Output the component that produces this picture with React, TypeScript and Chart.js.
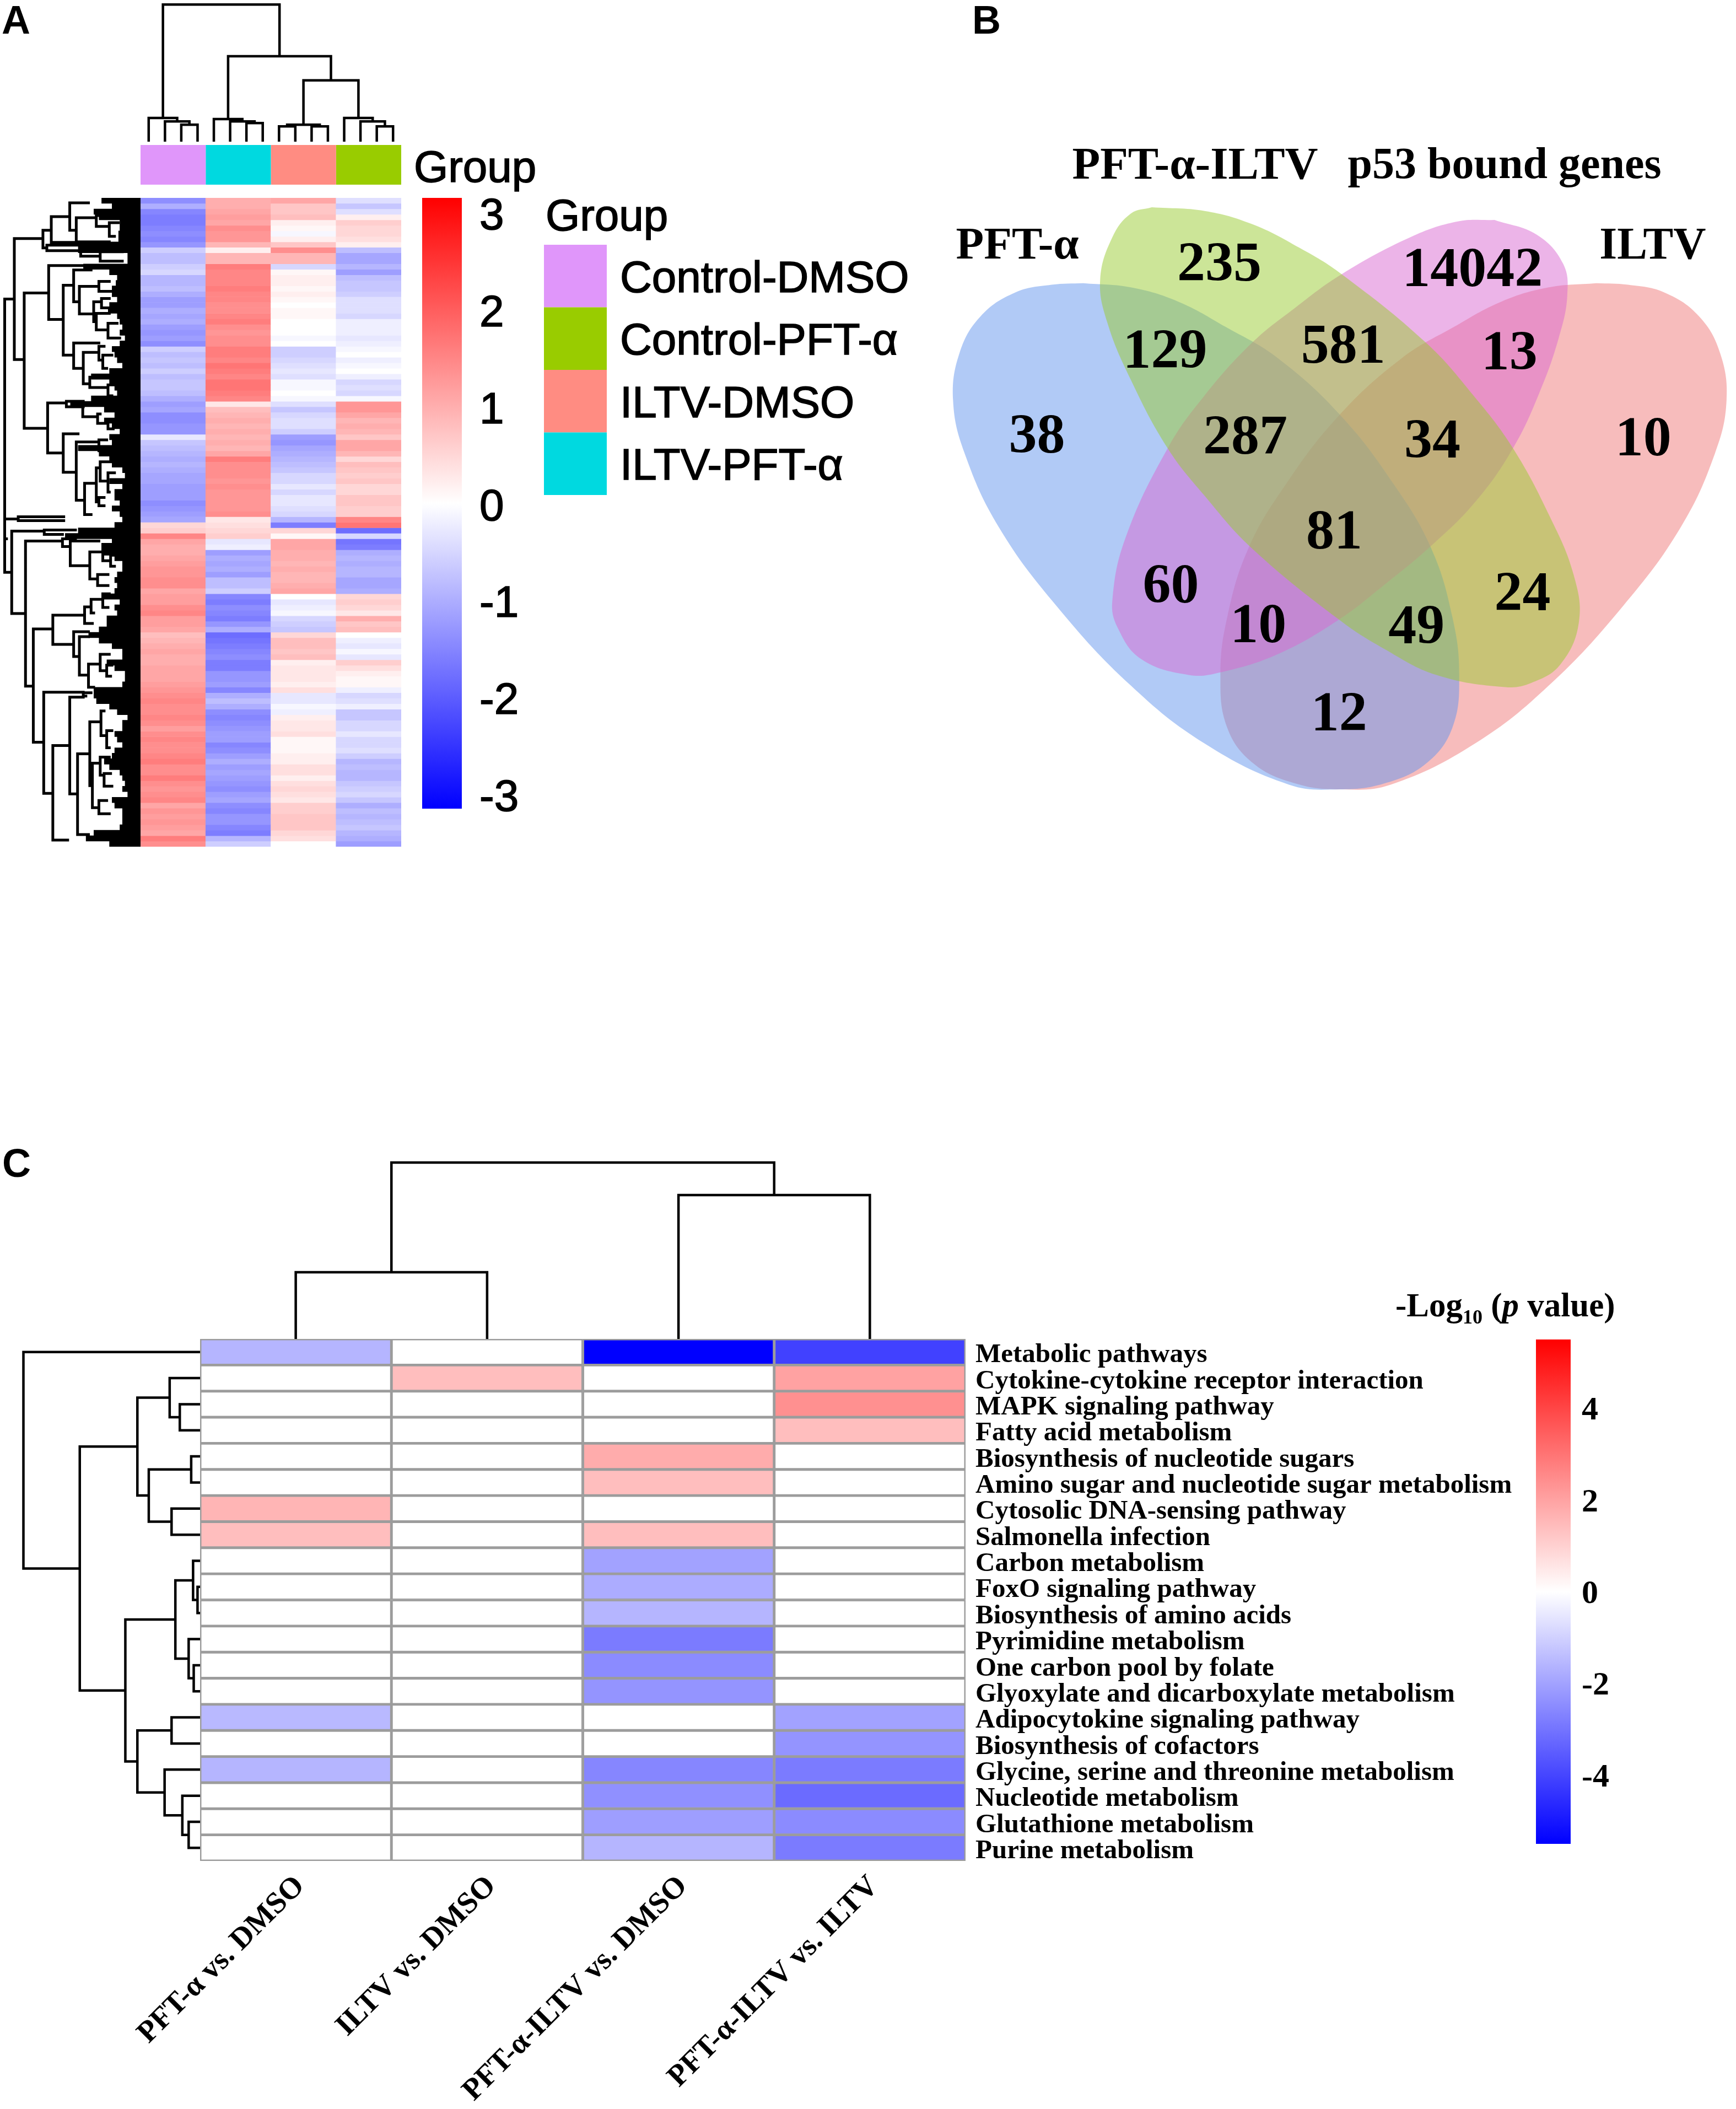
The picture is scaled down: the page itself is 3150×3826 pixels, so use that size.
import React, { useEffect, useRef } from 'react';
import { Chart, registerables } from 'chart.js';
Chart.register(...registerables);

const SANS = '"Liberation Sans", Arial, sans-serif';
const SERIF = '"Liberation Serif", "Times New Roman", serif';

// ---------- Panel A data ----------
const groupColumns = ['Control-DMSO', 'ILTV-PFT-α', 'ILTV-DMSO', 'Control-PFT-α'];
const groupColors = ['#E096FA', '#00D9E0', '#FF8C82', '#99CC00'];
const legendNames = ['Control-DMSO', 'Control-PFT-α', 'ILTV-DMSO', 'ILTV-PFT-α'];
const legendColors = ['#E096FA', '#99CC00', '#FF8C82', '#00D9E0'];
const colorTicksA = [-3, -2, -1, 0, 1, 2, 3];

// z-scores of each heat-map row, in the order of groupColumns
const heatRowsA = [
  [-1.4, 1.0, 1.1, -0.4], [-1.0, 1.0, 0.7, -0.7], [-1.5, 1.1, 0.7, -0.4], [-1.6, 1.2, 0.8, 0.2], [-1.6, 1.1, 0.2, 0.6],
  [-1.5, 1.4, 0.1, 0.5], [-1.4, 1.3, -0.1, 0.5], [-1.5, 1.3, 0.2, 0.4], [-1.3, 0.9, 0.7, 0.2], [-0.6, 0.2, 1.4, -0.8],
  [-0.8, 0.9, 0.9, -1.1], [-0.8, 0.9, 0.9, -1.1], [-0.6, 1.6, -0.5, -0.9], [-0.5, 1.5, 0.1, -1.2], [-0.9, 1.5, 0.2, -0.8],
  [-0.9, 1.5, 0.2, -0.7], [-0.8, 1.6, 0.1, -0.7], [-1.0, 1.5, 0.2, -0.6], [-1.2, 1.5, 0.1, -0.4], [-1.2, 1.4, 0.0, -0.4],
  [-1.0, 1.4, 0.1, -0.4], [-1.1, 1.5, 0.1, -0.5], [-1.0, 1.6, 0.0, -0.2], [-1.2, 1.4, 0.0, -0.2], [-1.3, 1.3, 0.0, -0.2],
  [-1.2, 1.4, -0.1, -0.3], [-1.4, 1.4, 0.0, -0.2], [-0.6, 1.6, -0.6, -0.1], [-0.8, 1.6, -0.6, 0.0], [-0.7, 1.5, -0.5, -0.2],
  [-0.8, 1.7, -0.4, -0.1], [-0.6, 1.6, -0.3, 0.0], [-0.8, 1.5, -0.4, -0.2], [-0.7, 1.7, -0.1, -0.5], [-0.7, 1.7, -0.1, -0.4],
  [-0.8, 1.6, 0.0, -0.5], [-1.0, 1.5, -0.1, -0.1], [-1.2, 0.3, -0.4, 1.3], [-1.1, 0.8, -0.7, 1.3], [-1.4, 0.9, -0.5, 1.1],
  [-1.4, 1.0, -0.4, 0.9], [-1.3, 0.9, -0.4, 1.0], [-1.3, 1.0, -0.6, 0.9], [-0.3, 0.9, -1.2, 0.7], [-0.7, 1.0, -1.3, 1.1],
  [-0.8, 0.9, -1.1, 1.1], [-0.9, 1.1, -1.0, 0.9], [-1.0, 1.6, -0.9, 0.5], [-0.9, 1.4, -0.8, 0.8], [-1.0, 1.4, -0.7, 0.7],
  [-1.1, 1.4, -0.5, 0.6], [-1.1, 1.3, -0.5, 0.7], [-1.2, 1.4, -0.3, 0.5], [-1.2, 1.3, -0.5, 0.5], [-1.2, 1.3, -0.3, 0.7],
  [-1.4, 1.3, -0.3, 0.7], [-1.3, 1.3, -0.4, 0.6], [-1.2, 1.4, -0.5, 0.6], [-1.1, 0.3, -0.9, 1.5], [0.5, 0.4, -1.6, 1.7],
  [0.6, 0.5, 0.5, -1.8], [1.5, 0.6, 0.1, -0.5],
  [1.1, -0.3, 1.1, -1.7], [1.0, -0.2, 1.1, -1.6], [1.0, -1.2, 1.0, -1.0], [1.1, -1.0, 1.0, -0.9], [1.2, -1.1, 0.9, -1.0],
  [1.3, -1.0, 1.0, -0.9], [1.3, -1.2, 0.9, -0.9], [1.4, -0.8, 0.9, -1.1], [1.4, -0.8, 1.0, -1.1], [1.1, -0.6, 1.1, -1.0],
  [1.2, -1.5, 0.0, 0.5], [1.2, -1.6, -0.3, 0.6], [1.4, -1.4, -0.2, 0.5], [1.5, -1.5, -0.1, 0.3], [1.2, -1.6, -0.5, 1.0],
  [1.2, -1.3, -0.6, 0.7], [1.1, -1.0, -0.7, 0.8], [0.8, -1.8, 0.5, 0.0], [0.9, -1.7, 0.8, -0.2], [1.0, -1.6, 0.8, -0.3],
  [1.1, -1.5, 0.7, -0.1], [1.0, -1.4, 0.8, -0.3], [1.0, -1.6, 0.2, 0.6], [1.1, -1.6, 0.3, 0.4], [1.1, -1.3, 0.3, 0.2],
  [1.1, -1.3, 0.3, 0.1], [1.2, -1.2, 0.2, 0.1], [1.3, -1.5, 0.4, -0.2],
  [1.4, -1.0, -0.3, -0.5], [1.5, -0.8, -0.3, -0.4], [1.4, -1.0, -0.1, -0.2], [1.4, -1.4, -0.2, -0.7], [1.5, -1.5, 0.2, -0.7],
  [1.4, -1.4, 0.3, -0.5], [1.2, -1.3, 0.3, -0.5], [1.4, -1.2, 0.4, -0.3], [1.5, -1.2, 0.1, -0.5], [1.4, -1.5, 0.1, -0.5],
  [1.4, -1.4, 0.1, -0.4], [1.5, -1.2, 0.2, -0.6], [1.6, -1.0, 0.2, -0.9], [1.4, -1.2, 0.4, -0.8], [1.4, -1.1, 0.4, -0.9],
  [1.6, -1.2, 0.2, -0.9], [1.4, -1.3, 0.4, -0.7], [1.3, -1.4, 0.5, -0.6], [1.4, -1.2, 0.4, -0.5], [1.5, -1.1, 0.3, -0.7],
  [1.1, -1.4, 0.6, -1.0], [1.3, -1.5, 0.6, -0.8], [1.2, -1.3, 0.7, -0.9], [1.3, -1.3, 0.7, -0.8], [1.2, -1.5, 0.7, -0.7],
  [1.1, -1.6, 0.5, -0.9], [1.6, -0.9, 0.4, -1.0], [1.4, -0.6, 0.0, -1.2],
];

// Dendrogram trees: [merge height, left, right]; a number is a leaf index.
const sampleTreeA: any = [8,
  [210, 0, [216, 1, [222, 2, 3]]],
  [100,
    [212, 4, [216, 5, [219, 6, 7]]],
    [143, [222, [225, 8, 9], [225, 10, 11]], [210, 12, [216, 13, [225, 14, 15]]]]]];

// depth at which each row's leaf bundle begins
const rowLeafDepth = [
  390, 430, 360, 380, 460, 460, 455, 455, 300, 300, 490, 490, 320, 420, 450, 445, 430, 430, 450, 420, 415, 450, 460, 470, 460, 480, 460, 430, 440, 450,
  470, 420, 350, 420, 440, 450, 350, 270, 400, 440, 400, 430, 460, 420, 430, 300, 380, 420, 430, 470, 480, 420, 470, 440, 440, 460, 430, 460, 470, 440, 300, 250,
  430, 400, 390, 440, 470, 470, 450, 440, 450, 440, 400, 460, 440, 450, 410, 410, 380, 340, 380, 430, 470, 470, 410, 440, 480, 480, 470, 360,
  360, 370, 420, 450, 490, 470, 470, 440, 450, 470, 440, 430, 400, 420, 460, 470, 480, 470, 490, 430, 440, 470, 470, 470, 460, 360, 330, 420,
];
// [node depth, upper row, upper child depth, lower row, lower child depth]
const rowBranches = [
  [18, 18.4, 55, 68.1, 45], [55, 7.4, 165, 29.4, 93], [165, 5.9, 197, 9.1, 180], [197, 3.4, 268, 8.1, 420], [268, 0.9, 340, 5.9, 293],
  [293, 3.6, 370, 8.0, 420], [370, 3.2, 400, 5.2, 420], [420, 4.5, 455, 7.0, 440], [180, 8.6, 300, 9.6, 310], [310, 9.2, 385, 10.6, 385],
  [385, 9.8, 470, 11.5, 470], [93, 17.3, 187, 41.9, 183], [187, 12.3, 320, 22.1, 243], [243, 15.9, 283, 28.6, 283], [283, 13.1, 350, 18.9, 305],
  [305, 16.1, 380, 21.1, 360], [380, 15.2, 420, 17, 430], [360, 18.9, 390, 22.5, 370], [390, 18.3, 420, 20, 430], [370, 21, 420, 24, 415],
  [415, 22.8, 450, 25.5, 460], [283, 26.4, 380, 31, 320], [320, 28.1, 380, 33.8, 345], [380, 27, 400, 29.5, 395], [395, 28.6, 430, 31, 410],
  [345, 32.6, 380, 34.5, 415], [415, 34, 440, 36, 430], [183, 37.3, 255, 46.4, 243], [255, 37, 320, 38, 320], [318, 37.6, 400, 39.8, 375],
  [375, 39.3, 385, 41, 415], [415, 40.5, 430, 42, 435], [243, 42.9, 300, 49.9, 293], [293, 44.4, 380, 55, 325], [380, 44, 410, 46, 415],
  [325, 51.9, 370, 57.6, 350], [370, 49.1, 385, 55.3, 380], [385, 48, 430, 51.5, 415], [415, 50, 440, 53.5, 420], [380, 54.5, 400, 56, 400],
  [18, 58.4, 70, 62, 25], [70, 58, 245, 58.7, 245], [45, 60.6, 170, 75.6, 98], [170, 60.4, 290, 61.2, 240], [98, 62.4, 240, 88.8, 128],
  [240, 62, 290, 63.4, 270], [270, 62.4, 380, 66.9, 345], [345, 64.4, 395, 69.3, 375], [395, 63, 430, 66, 425], [425, 65, 440, 67, 440],
  [375, 68.5, 415, 70.5, 415], [128, 78.4, 203, 99, 168], [203, 75.9, 325, 81.2, 283], [325, 74.4, 350, 77.4, 355], [350, 73, 395, 75.5, 360],
  [395, 72, 420, 74.5, 415], [283, 78.9, 340, 83.4, 305], [305, 79.8, 340, 86.8, 340], [340, 84.8, 385, 89, 360], [385, 83, 420, 86, 410],
  [410, 85, 430, 87, 425], [168, 89.9, 320, 108.3, 203], [203, 99.6, 268, 116.8, 260], [268, 90.8, 320, 108.4, 298], [298, 101.1, 345, 115.8, 340],
  [345, 95.3, 388, 106.9, 355], [388, 93.3, 400, 97.8, 410], [410, 96.9, 430, 100, 420], [355, 102.8, 385, 110.9, 380], [385, 101.7, 420, 105, 400],
  [400, 104.7, 425, 107, 430], [380, 109.6, 410, 112, 420], [320, 90, 350, 90.6, 330],
];

// ---------- Panel B data ----------
const vennBlue = [[330, 537], [420, 545], [510, 572], [600, 620], [700, 680], [820, 790], [920, 920], [990, 1040], [1030, 1170], [1043, 1280], [1030, 1380], [980, 1448], [900, 1486], [816, 1497], [720, 1488], [560, 1410], [420, 1300], [280, 1150], [170, 1000], [105, 860], [83, 760], [95, 670], [135, 600], [200, 555], [270, 540], [330, 537]];
const vennRed = [[1303, 537], [1213, 545], [1123, 572], [1033, 620], [933, 680], [813, 790], [713, 920], [643, 1040], [603, 1170], [590, 1280], [603, 1380], [653, 1448], [733, 1486], [816, 1497], [913, 1488], [1073, 1410], [1213, 1300], [1353, 1150], [1463, 1000], [1528, 860], [1550, 760], [1538, 670], [1498, 600], [1433, 555], [1363, 540], [1303, 537]];
const vennGreen = [[460, 393], [560, 400], [650, 425], [740, 470], [820, 520], [980, 650], [1070, 750], [1145, 850], [1215, 980], [1260, 1090], [1270, 1180], [1235, 1260], [1180, 1295], [1130, 1303], [1000, 1280], [900, 1230], [815, 1175], [650, 1040], [560, 940], [490, 850], [420, 720], [375, 610], [362, 530], [385, 450], [420, 405], [460, 393]];
const vennPurple = [[1110, 417], [1190, 445], [1240, 500], [1248, 560], [1232, 640], [1195, 745], [1145, 850], [1075, 950], [990, 1035], [900, 1110], [815, 1175], [700, 1240], [590, 1275], [530, 1280], [440, 1250], [395, 1190], [385, 1140], [410, 1020], [490, 850], [560, 750], [650, 650], [730, 585], [820, 520], [950, 450], [1040, 420], [1110, 417]];
const vennCounts = ['38', '235', '14042', '129', '581', '13', '10', '287', '34', '81', '60', '10', '49', '24', '12'];
const vennCountX = [242, 588, 1068, 485, 823, 1138, 1392, 637, 992, 806, 496, 662, 962, 1163, 815];
const vennCountY = [831, 505, 515, 670, 660, 673, 836, 833, 840, 1013, 1115, 1190, 1192, 1130, 1358];
const vennNames = ['PFT-α-ILTV', 'p53 bound genes', 'PFT-α', 'ILTV'];
const vennNameSizes = [83, 80, 83, 82];
const vennNameX = [542, 1129, 205, 1410];
const vennNameY = [316, 316, 468, 468];

// ---------- Panel C data ----------
const comparisons = ['PFT-α vs. DMSO', 'ILTV vs. DMSO', 'PFT-α-ILTV vs. DMSO', 'PFT-α-ILTV vs. ILTV'];
const pathways = [
  'Metabolic pathways', 'Cytokine-cytokine receptor interaction', 'MAPK signaling pathway', 'Fatty acid metabolism',
  'Biosynthesis of nucleotide sugars', 'Amino sugar and nucleotide sugar metabolism', 'Cytosolic DNA-sensing pathway', 'Salmonella infection',
  'Carbon metabolism', 'FoxO signaling pathway', 'Biosynthesis of amino acids', 'Pyrimidine metabolism',
  'One carbon pool by folate', 'Glyoxylate and dicarboxylate metabolism', 'Adipocytokine signaling pathway', 'Biosynthesis of cofactors',
  'Glycine, serine and threonine metabolism', 'Nucleotide metabolism', 'Glutathione metabolism', 'Purine metabolism',
];
const pfaVsDmso = [-1.6, 0, 0, 0, 0, 0, 1.6, 1.4, 0, 0, 0, 0, 0, 0, -1.5, 0, -1.6, 0, 0, 0];
const iltvVsDmso = [0, 1.4, 0, 0, 0, 0, 0, 0, 0, 0, 0, 0, 0, 0, 0, 0, 0, 0, 0, 0];
const comboVsDmso = [-5.5, 0, 0, 0, 1.8, 1.4, 0, 1.4, -2.0, -1.8, -1.6, -2.85, -2.5, -2.3, 0, 0, -2.6, -2.4, -2.1, -1.6];
const comboVsIltv = [-4.1, 2.0, 2.4, 1.4, 0, 0, 0, 0, 0, 0, 0, 0, 0, 0, -2.0, -2.3, -2.85, -3.2, -2.5, -2.85];
const colorTicksC = [-4, -2, 0, 2, 4];
const comparisonTree: any = [320, [121, 0, 1], [261, 2, 3]];
const pathwayTree: any = [37, 0, [126,
  [217, [268, 1, [284, 2, 3]], [235, [302, 4, 5], [271, 6, 7]]],
  [198,
    [277, [305, 8, [312, 9, 10]], [298, 11, [306, 12, 13]]],
    [217, [271, 14, 15], [260, 16, [288, 17, [298, 18, 19]]]]]]];

// ---------- helpers ----------
const divergent = (v: number, limit: number) => {
  const t = Math.min(1, Math.abs(v) / limit);
  const c = Math.round(255 * (1 - t));
  return v >= 0 ? `rgb(255,${c},${c})` : `rgb(${c},${c},255)`;
};

const treeLine = (tree: any, base: number, flip: (h: number, p: number) => { x: number; y: number }) => {
  const out: { x: number; y: number }[] = [];
  const walk = (n: any): { h: number; p: number } => {
    if (typeof n === 'number') return { h: base, p: n + 0.5 };
    const a = walk(n[1]);
    const b = walk(n[2]);
    out.push(flip(a.h, a.p), flip(n[0], a.p), flip(n[0], b.p), flip(b.h, b.p), { x: NaN, y: NaN });
    return { h: n[0], p: (a.p + b.p) / 2 };
  };
  walk(tree);
  return out;
};

const base = (extra: any = {}) => ({
  responsive: false,
  animation: false,
  devicePixelRatio: 1,
  events: [],
  layout: { padding: 0 },
  ...extra,
  plugins: { legend: { display: false }, tooltip: { enabled: false }, ...(extra.plugins || {}) },
});
const hidden = (extra: any = {}) => ({ display: false, ...extra });

// axis whose tick labels must not eat into the plot area
const fixedAxis = (size: { width?: number; height?: number }) => (s: any) => {
  if (size.width !== undefined) s.width = size.width;
  if (size.height !== undefined) s.height = size.height;
  s.paddingTop = 0;
  s.paddingBottom = 0;
  s.paddingLeft = 0;
  s.paddingRight = 0;
};

const dendroDataset = (data: any[], width: number) => ({
  data, showLine: true, pointRadius: 0, borderColor: '#000', borderWidth: width, tension: 0, spanGaps: false,
  borderJoinStyle: 'miter', borderCapStyle: 'square', clip: false,
});

const pointText = {
  id: 'pointText',
  afterDatasetsDraw(chart: any) {
    const { ctx } = chart;
    chart.data.datasets.forEach((ds: any, i: number) => {
      if (!ds.texts) return;
      const meta = chart.getDatasetMeta(i);
      ctx.save();
      ctx.fillStyle = '#000';
      ctx.textAlign = 'center';
      ctx.textBaseline = 'middle';
      ds.texts.forEach((t: string, j: number) => {
        ctx.font = `bold ${ds.textSizes[j]}px ${SERIF}`;
        ctx.fillText(t, meta.data[j].x, meta.data[j].y);
      });
      ctx.restore();
    });
  },
};

const gradientBar = (ctx: any) => {
  const { chart } = ctx;
  const area = chart.chartArea;
  if (!area) return '#fff';
  const g = chart.ctx.createLinearGradient(0, area.top, 0, area.bottom);
  g.addColorStop(0, '#ff0000');
  g.addColorStop(0.5, '#ffffff');
  g.addColorStop(1, '#0000ff');
  return g;
};

const colorBarConfig = (min: number, max: number, ticks: number[], tickStyle: any) => ({
  type: 'bar',
  data: { labels: ['scale'], datasets: [{ data: [[min, max]], backgroundColor: gradientBar, barPercentage: 1, categoryPercentage: 1, borderWidth: 0, inflateAmount: 0 }] },
  options: base({
    layout: { padding: { top: 60, bottom: 60 } },
    scales: {
      x: hidden(),
      y: {
        position: 'right', min, max,
        grid: { display: false, drawTicks: false }, border: { display: false },
        afterBuildTicks: (s: any) => { s.ticks = ticks.map((value) => ({ value })); },
        ticks: { color: '#000', autoSkip: false, labelOffset: 5, ...tickStyle },
        afterFit: fixedAxis({ width: 160 }),
      },
    },
  }),
});

const sansTick = { color: '#000', font: { family: SANS, size: 80 }, textStrokeColor: '#000', textStrokeWidth: 1.6 };

// ---------- chart configs ----------
const heatA = () => ({
  type: 'bar',
  data: {
    labels: groupColumns,
    datasets: heatRowsA.map((row, r) => ({
      data: row.map(() => [r, r + 1]),
      backgroundColor: row.map((v) => divergent(v, 3.15)),
      barPercentage: 1, categoryPercentage: 1, borderWidth: 0,
    })),
  },
  options: base({ scales: { x: hidden({ stacked: true }), y: hidden({ min: 0, max: heatRowsA.length, reverse: true }) } }),
});

const annotationA = () => ({
  type: 'bar',
  data: {
    labels: ['Group'],
    datasets: groupColumns.map((label, i) => ({ label, data: [1], backgroundColor: groupColors[i], barPercentage: 1, categoryPercentage: 1, borderWidth: 0, inflateAmount: 0 })),
  },
  options: base({
    indexAxis: 'y',
    layout: { padding: { top: 20, bottom: 20 } },
    scales: {
      x: hidden({ stacked: true, min: 0, max: 4 }),
      y: {
        stacked: true, position: 'right', grid: { display: false, drawTicks: false }, border: { display: false },
        ticks: { ...sansTick, padding: 23, labelOffset: 9 },
        afterFit: fixedAxis({ width: 250 }),
      },
    },
  }),
});

const colTreeA = () => ({
  type: 'scatter',
  data: { datasets: [dendroDataset(treeLine(sampleTreeA, 250, (h, p) => ({ x: p, y: h })), 4.5)] },
  options: base({ scales: { x: hidden({ type: 'linear', min: 0, max: 16 }), y: hidden({ min: 0, max: 258, reverse: true }) } }),
});

const rowTreeA = () => {
  const leaves: any[] = [];
  rowLeafDepth.forEach((d, i) => leaves.push({ x: d, y: i + 0.5 }, { x: 540, y: i + 0.5 }, { x: NaN, y: NaN }));
  const branches: any[] = [];
  rowBranches.forEach(([x, ra, xa, rb, xb]) => branches.push({ x: xa, y: ra }, { x, y: ra }, { x, y: rb }, { x: xb, y: rb }, { x: NaN, y: NaN }));
  return {
    type: 'scatter',
    data: { datasets: [dendroDataset(branches, 5), { ...dendroDataset(leaves, 10.6), borderCapStyle: 'butt' }] },
    options: base({ scales: { x: hidden({ type: 'linear', min: 0, max: 540 }), y: hidden({ min: 0, max: heatRowsA.length, reverse: true }) } }),
  };
};

const legendA = () => ({
  type: 'bar',
  data: { labels: legendNames, datasets: [{ data: legendNames.map(() => 1), backgroundColor: legendColors, barPercentage: 1, categoryPercentage: 1, borderWidth: 0, inflateAmount: 0 }] },
  options: base({
    indexAxis: 'y',
    scales: {
      x: hidden({ min: 0, max: 1 }),
      y: {
        position: 'right', grid: { display: false, drawTicks: false }, border: { display: false },
        ticks: { ...sansTick, padding: 24, labelOffset: 7 },
        afterFit: fixedAxis({ width: 600 }),
      },
    },
  }),
});

const venn = () => {
  const shape = (pts: number[][], color: string) => ({
    data: pts.map(([x, y]) => ({ x, y })), showLine: true, pointRadius: 0, borderWidth: 0,
    fill: 'shape', backgroundColor: color, borderColor: 'rgba(0,0,0,0)', tension: 0.4,
  });
  const labels = (texts: string[], xs: number[], ys: number[], textSizes: number[]) => ({
    data: texts.map((_, i) => ({ x: xs[i], y: ys[i] })), pointRadius: 0, texts, textSizes, showLine: false,
  });
  return {
    type: 'scatter',
    data: {
      datasets: [
        labels(vennCounts, vennCountX, vennCountY, vennCounts.map(() => 102)),
        labels(vennNames, vennNameX, vennNameY, vennNameSizes),
        shape(vennGreen, 'rgba(153,204,50,0.5)'),
        shape(vennPurple, 'rgba(217,105,210,0.5)'),
        shape(vennBlue, 'rgba(100,149,237,0.5)'),
        shape(vennRed, 'rgba(240,122,122,0.5)'),
      ],
    },
    options: base({ scales: { x: hidden({ type: 'linear', min: 0, max: 1568 }), y: hidden({ min: 0, max: 1568, reverse: true }) } }),
    plugins: [pointText],
  };
};

const heatC = () => {
  const columns = [pfaVsDmso, iltvVsDmso, comboVsDmso, comboVsIltv];
  return {
    type: 'bar',
    data: {
      labels: comparisons,
      datasets: pathways.map((_, r) => ({
        data: columns.map(() => [r, r + 1]),
        backgroundColor: columns.map((c) => divergent(c[r], 5.5)),
        borderColor: '#9c9c9c', borderWidth: 2.8, borderSkipped: false,
        barPercentage: 1, categoryPercentage: 1,
      })),
    },
    options: base({
      layout: { padding: { top: 60, left: 363 } },
      scales: {
        x: {
          stacked: true, grid: { display: false, drawTicks: false }, border: { display: false },
          ticks: { color: '#000', font: { family: SERIF, size: 55, weight: 'bold' }, maxRotation: 45, minRotation: 45, autoSkip: false, padding: 14, labelOffset: 8 },
          afterFit: fixedAxis({ height: 450 }),
        },
        y: {
          position: 'right', min: 0, max: pathways.length, reverse: true,
          grid: { display: false, drawTicks: false }, border: { display: false },
          afterBuildTicks: (s: any) => { s.ticks = pathways.map((_, i) => ({ value: i + 0.5 })); },
          ticks: { color: '#000', font: { family: SERIF, size: 49, weight: 'bold' }, padding: 18, labelOffset: 6, autoSkip: false, callback: (v: number) => pathways[Math.floor(v)] },
          afterFit: fixedAxis({ width: 1050 }),
        },
      },
    }),
  };
};

const colTreeC = () => ({
  type: 'scatter',
  data: { datasets: [dendroDataset(treeLine(comparisonTree, 0, (h, p) => ({ x: p, y: h })), 4.5)] },
  options: base({ scales: { x: hidden({ type: 'linear', min: 0, max: 4 }), y: hidden({ min: 0, max: 329 }) } }),
});

const rowTreeC = () => ({
  type: 'scatter',
  data: { datasets: [dendroDataset(treeLine(pathwayTree, 316, (h, p) => ({ x: h, y: p })), 4.5)] },
  options: base({ scales: { x: hidden({ type: 'linear', min: 0, max: 316 }), y: hidden({ min: 0, max: pathways.length, reverse: true }) } }),
});

// ---------- components ----------
const Panel = ({ left, top, width, height, make }: any) => {
  const ref = useRef<HTMLCanvasElement>(null);
  useEffect(() => {
    const chart = new Chart(ref.current as any, make());
    return () => chart.destroy();
  }, []);
  return <canvas ref={ref} width={width} height={height} style={{ position: 'absolute', left, top, width, height }} />;
};

const letter = (text: string, left: number, top: number) => (
  <div style={{ position: 'absolute', left, top, font: `bold 72px/72px ${SANS}`, color: '#000' }}>{text}</div>
);

export default function App() {
  return (
    <div style={{ position: 'absolute', left: 0, top: 0, width: 3150, height: 3826, background: '#fff', overflow: 'hidden' }}>
      <Panel left={255} top={0} width={473} height={263} make={colTreeA} />
      <Panel left={255} top={243} width={723} height={112} make={annotationA} />
      <Panel left={0} top={359} width={255} height={1177} make={rowTreeA} />
      <Panel left={255} top={359} width={473} height={1177} make={heatA} />
      <Panel left={766} top={299} width={232} height={1228} make={() => colorBarConfig(-3.13, 3.17, colorTicksA, { ...sansTick, padding: 32 })} />
      <div style={{ position: 'absolute', left: 990, top: 343, font: `80px/96px ${SANS}`, color: '#000', WebkitTextStroke: '1.6px #000' }}>Group</div>
      <Panel left={987} top={444} width={714} height={454} make={legendA} />
      <Panel left={1650} top={0} width={1500} height={1500} make={venn} />
      <Panel left={363} top={2100} width={1389} height={329} make={colTreeC} />
      <Panel left={0} top={2429} width={363} height={947} make={rowTreeC} />
      <Panel left={0} top={2369} width={2802} height={1457} make={heatC} />
      <Panel left={2787} top={2370} width={223} height={1035} make={() => colorBarConfig(-5.5, 5.5, colorTicksC, { font: { family: SERIF, size: 60, weight: 'bold' }, padding: 20 })} />
      <div style={{ position: 'absolute', left: 2532, top: 2333, font: `bold 61px/70px ${SERIF}`, color: '#000', whiteSpace: 'nowrap' }}>
        -Log<sub style={{ fontSize: 36 }}>10</sub> (<i>p</i> value)
      </div>
      {letter('A', 3, 0)}
      {letter('B', 1764, 0)}
      {letter('C', 4, 2074)}
    </div>
  );
}
